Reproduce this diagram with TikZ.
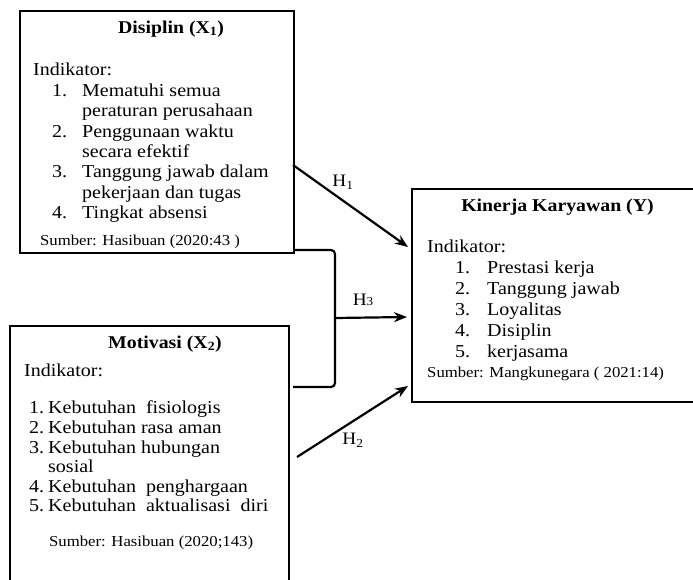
\documentclass[tikz,border=0pt]{standalone}
\usepackage{fontspec}
\setmainfont{Liberation Serif}[FakeStretch=1.1]
\usetikzlibrary{arrows.meta}
\begin{document}
\begin{tikzpicture}[x=1pt,y=-1pt,
  box/.style={draw, line width=1.4pt, rectangle, inner sep=0pt},
  txt/.style={anchor=base west, inner sep=0pt, font=\fontsize{18.2}{20}\selectfont},
  ttl/.style={anchor=base, inner sep=0pt, font=\fontsize{18}{20}\selectfont\bfseries},
  src/.style={anchor=base west, inner sep=0pt, font=\fontsize{15.2}{17}\selectfont},
  arr/.style={line width=2.2pt, -{Stealth[length=13pt,width=10pt]}},
  brk/.style={line width=2.2pt, rounded corners=4pt},
  lbl/.style={inner sep=0pt, font=\fontsize{17.5}{20}\selectfont}]
\useasboundingbox (0,0) rectangle (693,579);
\clip (0,0) rectangle (693,579);

% boxes
\node[box, minimum width=274pt, minimum height=242pt] (b1) at (157,132) {};
\node[box, minimum width=279pt, minimum height=290pt] (b2) at (149.5,471) {};
\node[box, minimum width=300pt, minimum height=213pt] (b3) at (562,295.5) {};

% box 1 text
\node[ttl] (t1) at (171,33) {Disiplin (X\textsubscript{1})};
\node[txt] (i1) at (33,75) {Indikator:};
\node[txt] (a1) at (52,96) {\makebox[30pt][l]{1.}Mematuhi semua};
\node[txt] (a1b) at (82,116) {peraturan perusahaan};
\node[txt] (a2) at (52,137) {\makebox[30pt][l]{2.}Penggunaan waktu};
\node[txt] (a2b) at (82,157) {secara efektif};
\node[txt] (a3) at (52,177) {\makebox[30pt][l]{3.}Tanggung jawab dalam};
\node[txt] (a3b) at (82,198) {pekerjaan dan tugas};
\node[txt] (a4) at (52,218) {\makebox[30pt][l]{4.}Tingkat absensi};
\node[src] (s1) at (40,245) {Sumber: Hasibuan (2020:43 )};

% box 2 text
\node[ttl] (t2) at (165,348) {Motivasi (X\textsubscript{2})};
\node[txt] (i2) at (24,376) {Indikator:};
\node[txt] (m1) at (29,413) {\makebox[19pt][l]{1.}Kebutuhan\ \ fisiologis};
\node[txt] (m2) at (29,433) {\makebox[19pt][l]{2.}Kebutuhan rasa aman};
\node[txt] (m3) at (29,453) {\makebox[19pt][l]{3.}Kebutuhan hubungan};
\node[txt] (m3b) at (48,472.5) {sosial};
\node[txt] (m4) at (29,492) {\makebox[19pt][l]{4.}Kebutuhan\ \ penghargaan};
\node[txt] (m5) at (29,511.5) {\makebox[19pt][l]{5.}Kebutuhan\ \ aktualisasi\ \ diri};
\node[src] (s2) at (49,546) {Sumber: Hasibuan (2020;143)};

% box 3 text
\node[ttl] (t3) at (557.5,211) {Kinerja Karyawan (Y)};
\node[txt] (i3) at (427,252) {Indikator:};
\node[txt] (k1) at (455,273) {\makebox[32pt][l]{1.}Prestasi kerja};
\node[txt] (k2) at (455,294) {\makebox[32pt][l]{2.}Tanggung jawab};
\node[txt] (k3) at (455,315) {\makebox[32pt][l]{3.}Loyalitas};
\node[txt] (k4) at (455,336) {\makebox[32pt][l]{4.}Disiplin};
\node[txt] (k5) at (455,357) {\makebox[32pt][l]{5.}kerjasama};
\node[src] (s3) at (427,377) {Sumber: Mangkunegara ( 2021:14)};

% connector points
\coordinate (h1s) at (293,165);
\coordinate (h1e) at (408,247);
\coordinate (h2s) at (297,457);
\coordinate (h2e) at (408,386);
\coordinate (bt) at (293,250);
\coordinate (bb) at (293,387);
\coordinate (bx) at (335,318);
\coordinate (h3e) at (407,317);

% arrows
\draw[arr] (h1s) -- (h1e);
\draw[arr] (h2s) -- (h2e);
\draw[brk] (bt) -- (bx |- bt) -- (bx |- bb) -- (bb);
\draw[arr] (bx) -- (h3e);

% labels
\node[lbl] (l1) at (343,182) {H\textsubscript{1}};
\node[lbl] (l3) at (363,300) {H{\fontsize{12}{12}\selectfont 3}};
\node[lbl] (l2) at (353,440) {H\textsubscript{2}};
\end{tikzpicture}
\end{document}
